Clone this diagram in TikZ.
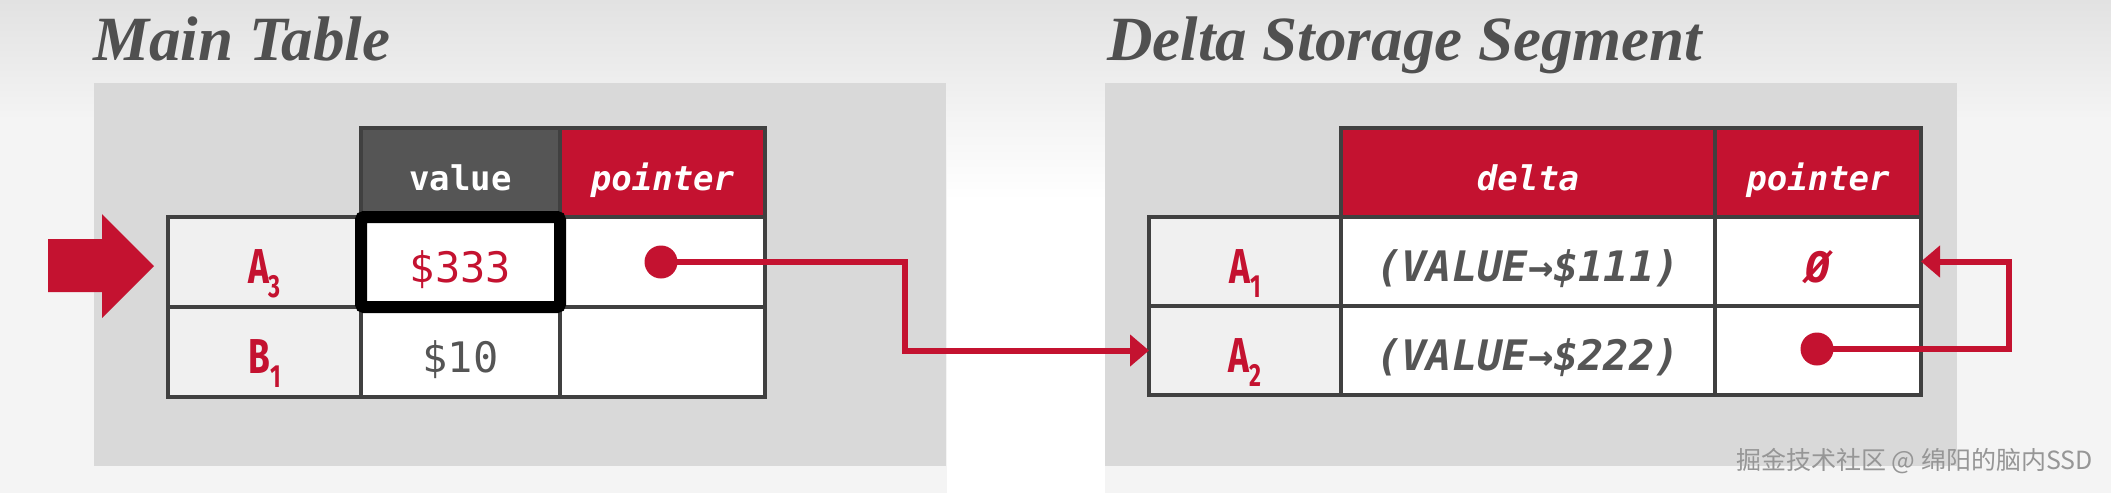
\documentclass[tikz,border=0pt]{standalone}
\usepackage{fontspec}
\setmainfont{Liberation Serif}
\newfontfamily\ttlfont{Liberation Serif}
\newfontfamily\cellmono{DejaVu Sans Mono}
\newfontfamily\rowlabfont[FakeStretch=0.72]{Fira Sans}
\newfontfamily\wmfont{Noto Sans CJK SC}
\usetikzlibrary{arrows.meta}
\definecolor{cmured}{RGB}{196,18,48}
\definecolor{hdrgray}{RGB}{85,85,85}
\definecolor{bordergray}{RGB}{64,64,64}
\definecolor{panelgray}{RGB}{217,217,217}
\definecolor{labfill}{RGB}{240,240,240}
\definecolor{txtgray}{RGB}{85,85,85}
\definecolor{ttlgray}{RGB}{80,80,80}
\definecolor{bgcol}{RGB}{244,244,244}
\definecolor{bgtop}{RGB}{226,226,226}
\definecolor{wmgray}{RGB}{150,150,150}
\begin{document}
\begin{tikzpicture}[x=1pt,y=-1pt,
  cell/.style={draw=bordergray, line width=4.5pt, inner sep=0pt, outer sep=0pt,
    minimum height=89pt, text height=40pt, text depth=0pt,
    font=\cellmono\fontsize{42}{48}\selectfont},
  hdr/.style={cell, minimum height=89pt, text height=35pt, text=white,
    font=\cellmono\bfseries\fontsize{34}{40}\selectfont},
  hdrit/.style={hdr, font=\cellmono\bfseries\itshape\fontsize{34}{40}\selectfont},
  labcell/.style={cell, fill=labfill, text=cmured, text height=43pt,
    font=\rowlabfont\bfseries\fontsize{49}{54}\selectfont},
  datacell/.style={cell, fill=white, text=txtgray},
  deltacell/.style={cell, fill=white, text=txtgray, text height=39pt,
    font=\cellmono\bfseries\itshape\fontsize{42}{48}\selectfont},
  hlbox/.style={draw=black, line width=12pt, rounded corners=3pt},
  dot/.style={circle, fill=cmured, minimum size=33pt, inner sep=0pt},
  conn/.style={draw=cmured, line width=6pt, -{Triangle[length=19pt,width=31pt]}},
  ttl/.style={anchor=base west, inner sep=0pt, text=ttlgray,
    font=\ttlfont\bfseries\itshape\fontsize{63}{70}\selectfont},
  panel/.style={fill=panelgray}
]
\newcommand\sub[1]{\raisebox{-14pt}{\fontsize{32}{32}\selectfont #1}}
\useasboundingbox (0,0) rectangle (2111,493);
% background
\fill[bgcol] (0,0) rectangle (2111,493);
\shade[top color=bgcol, bottom color=white] (947,118) rectangle (1105,200);
\fill[white] (947,199) rectangle (1105,493);
\shade[top color=bgtop, bottom color=bgcol] (0,0) rectangle (2111,120);
% panels
\fill[panel] (94,83) rectangle (946,466);
\fill[panel] (1105,83) rectangle (1957,466);
% titles
\node[ttl] (t1) at (93,60) {Main Table};
\node[ttl] (t2) at (1107,60) {Delta Storage Segment};
% big arrow
\fill[cmured] (48,239) -- (102,239) -- (102,214) -- (154,266) -- (102,318) -- (102,292) -- (48,292) -- cycle;
% main table
\node[hdr, fill=hdrgray, minimum width=199pt] (hv) at (460.5,172.5) {value};
\node[hdrit, fill=cmured, minimum width=205pt] (hp) at (662.5,172.5) {pointer};
\node[labcell, minimum width=193pt, minimum height=90pt] (a3) at (264.5,262) {A\sub{3}};
\node[datacell, minimum width=199pt, minimum height=90pt, text=cmured] (v1) at (460.5,262) {\$333};
\node[datacell, minimum width=205pt, minimum height=90pt] (p1) at (662.5,262) {};
\node[labcell, minimum width=193pt, minimum height=90pt] (b1) at (264.5,352) {B\sub{1}};
\node[datacell, minimum width=199pt, minimum height=90pt] (v2) at (460.5,352) {\$10};
\node[datacell, minimum width=205pt, minimum height=90pt] (p2) at (662.5,352) {};
\draw[hlbox] (v1.north west) rectangle (v1.south east);
% delta storage
\node[hdrit, fill=cmured, minimum width=374pt] (hd) at (1528,172.5) {delta};
\node[hdrit, fill=cmured, minimum width=206pt] (hq) at (1818,172.5) {pointer};
\node[labcell, minimum width=192pt] (r1) at (1245,261.5) {A\sub{1}};
\node[deltacell, minimum width=374pt] (d1) at (1528,261.5) {(VALUE→\$111)};
\node[datacell, minimum width=206pt, text=cmured, text height=41pt,
  font=\cellmono\bfseries\itshape\fontsize{42}{48}\selectfont] (q1) at (1818,261.5) {Ø};
\node[labcell, minimum width=192pt] (r2) at (1245,350.5) {A\sub{2}};
\node[deltacell, minimum width=374pt] (d2) at (1528,350.5) {(VALUE→\$222)};
\node[datacell, minimum width=206pt] (q2) at (1818,350.5) {};
% pointers
\node[dot] (dotL) at (661,262) {};
\node[dot] (dotR) at (1817,349) {};
\coordinate (bendL) at (905,300);
\coordinate (bendR) at (2009,300);
\draw[conn] (dotL.center) -| (bendL) |- (r2.west);
\draw[conn] (dotR.center) -| (bendR) |- (q1.east);
% watermark
\node[anchor=base east, inner sep=0pt, text=wmgray,
  font=\wmfont\fontsize{25}{29}\selectfont] (wm) at (2093,469) {掘金技术社区 @ 绵阳的脑内SSD};
\end{tikzpicture}
\end{document}
